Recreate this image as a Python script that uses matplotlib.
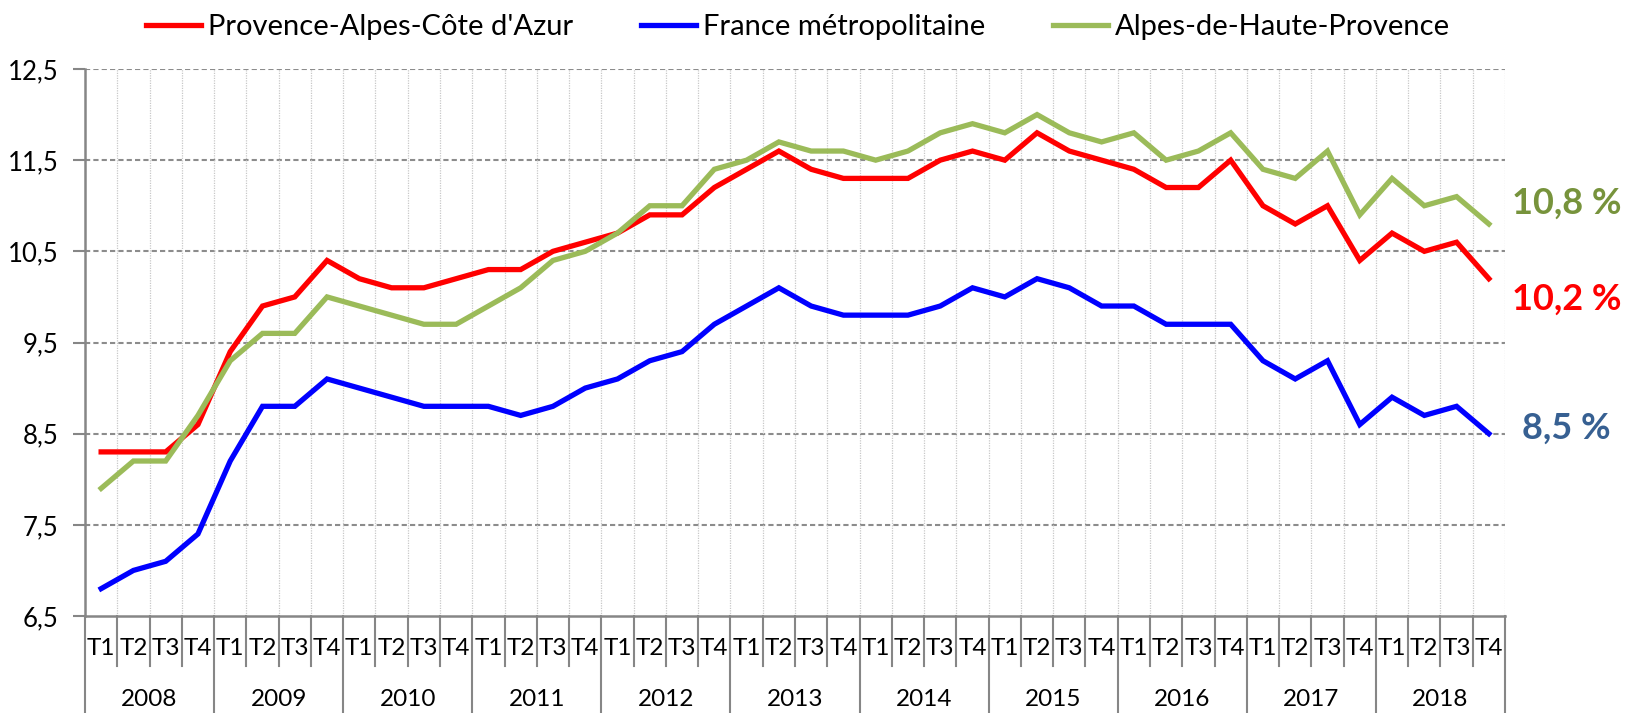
import numpy as np
import matplotlib
matplotlib.use("Agg")
import matplotlib.pyplot as plt
import matplotlib.transforms as mtransforms
from matplotlib.ticker import FuncFormatter

plt.rcParams['font.family'] = ['Lato', 'DejaVu Sans']

# donnees : taux de chomage trimestriel (%)
years = ['2008', '2009', '2010', '2011', '2012', '2013',
         '2014', '2015', '2016', '2017', '2018']
quarters = ['T1', 'T2', 'T3', 'T4']

paca = [8.3, 8.3, 8.3, 8.6, 9.4, 9.9, 10.0, 10.4, 10.2, 10.1, 10.1, 10.2,
        10.3, 10.3, 10.5, 10.6, 10.7, 10.9, 10.9, 11.2, 11.4, 11.6, 11.4, 11.3,
        11.3, 11.3, 11.5, 11.6, 11.5, 11.8, 11.6, 11.5, 11.4, 11.2, 11.2, 11.5,
        11.0, 10.8, 11.0, 10.4, 10.7, 10.5, 10.6, 10.2]
france = [6.8, 7.0, 7.1, 7.4, 8.2, 8.8, 8.8, 9.1, 9.0, 8.9, 8.8, 8.8,
          8.8, 8.7, 8.8, 9.0, 9.1, 9.3, 9.4, 9.7, 9.9, 10.1, 9.9, 9.8,
          9.8, 9.8, 9.9, 10.1, 10.0, 10.2, 10.1, 9.9, 9.9, 9.7, 9.7, 9.7,
          9.3, 9.1, 9.3, 8.6, 8.9, 8.7, 8.8, 8.5]
ahp = [7.9, 8.2, 8.2, 8.7, 9.3, 9.6, 9.6, 10.0, 9.9, 9.8, 9.7, 9.7,
       9.9, 10.1, 10.4, 10.5, 10.7, 11.0, 11.0, 11.4, 11.5, 11.7, 11.6, 11.6,
       11.5, 11.6, 11.8, 11.9, 11.8, 12.0, 11.8, 11.7, 11.8, 11.5, 11.6, 11.8,
       11.4, 11.3, 11.6, 10.9, 11.3, 11.0, 11.1, 10.8]

series = [('Provence-Alpes-Côte d\'Azur', paca, '#FF0000'),
          ('France métropolitaine', france, '#0000FF'),
          ('Alpes-de-Haute-Provence', ahp, '#9BBB59')]

n = len(years) * len(quarters)
x = np.arange(n) + 0.5

fig = plt.figure(figsize=(16.32, 7.13), dpi=100)
ax = fig.add_axes([85/1632, 1-616/713, 1420/1632, 547/713])

# grilles
for yv in np.arange(7.5, 12.6, 1.0):
    ax.axhline(yv, color='#8C8C8C', lw=1.5, ls=(0, (2.5, 1.5)), zorder=1)
for b in range(1, n + 1):
    ax.axvline(b, color='#C8C8C8', lw=0.9, ls=(0, (1, 1)), zorder=1)

for label, vals, col in series:
    ax.plot(x, vals, color=col, lw=3.8, label=label, zorder=3,
            solid_joinstyle='miter')

ax.set_xlim(0, n)
ax.set_ylim(6.5, 12.5)
ax.set_yticks(np.arange(6.5, 12.6, 1.0))
ax.yaxis.set_major_formatter(FuncFormatter(lambda v, p: ('%.1f' % v).replace('.', ',')))
ax.tick_params(axis='y', length=9, width=1.5, color='#868686', pad=10, labelsize=18.5)
ax.set_xticks([])

for s in ['top', 'right']:
    ax.spines[s].set_visible(False)
for s in ['left', 'bottom']:
    ax.spines[s].set_color('#868686')
    ax.spines[s].set_linewidth(1.8)

# axe des categories (trimestres / annees)
trans = mtransforms.blended_transform_factory(ax.transData, ax.transAxes)
for b in range(n + 1):
    low = -0.177 if b % 4 == 0 else -0.091
    ax.plot([b, b], [0, low], transform=trans, color='#868686', lw=1.5,
            clip_on=False)
for i in range(n):
    ax.text(i + 0.5, -0.060, quarters[i % 4], transform=trans, ha='center',
            va='center', fontsize=17.5)
for k, yr in enumerate(years):
    ax.text(4 * k + 2, -0.153, yr, transform=trans, ha='center',
            va='center', fontsize=17.5)

# valeurs finales
ax.annotate('10,8 %', xy=(x[-1], ahp[-1]), xytext=(17, 15),
            textcoords='offset points', ha='left', va='center',
            fontsize=26, fontweight='bold', color='#77933C', annotation_clip=False)
ax.annotate('10,2 %', xy=(x[-1], paca[-1]), xytext=(17, -15),
            textcoords='offset points', ha='left', va='center',
            fontsize=26, fontweight='bold', color='#FF0000', annotation_clip=False)
ax.annotate('8,5 %', xy=(x[-1], france[-1]), xytext=(24, 4),
            textcoords='offset points', ha='left', va='center',
            fontsize=26, fontweight='bold', color='#376092', annotation_clip=False)

fig.legend(loc='center', bbox_to_anchor=(0.489, 0.962), ncol=3, frameon=False,
           fontsize=21, handlelength=1.9, handletextpad=0.25, columnspacing=2.3)

fig.savefig('out.png', dpi=100)
